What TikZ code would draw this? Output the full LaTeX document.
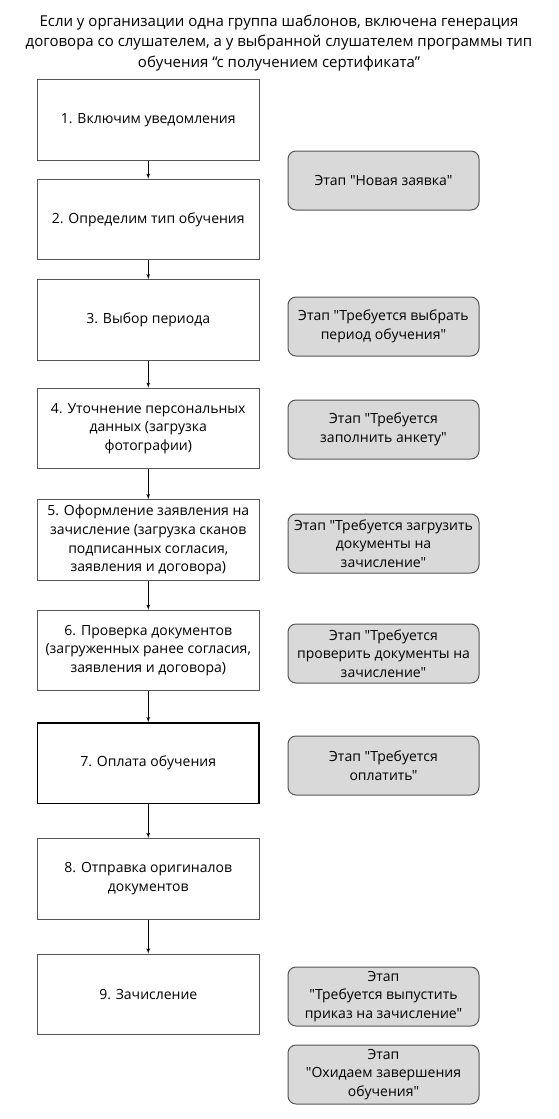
\documentclass[tikz,border=0pt]{standalone}
\usepackage{fontspec}
\setmainfont{Open Sans}[Ligatures=TeXOff]
\usetikzlibrary{arrows, positioning}
\definecolor{boxgray}{HTML}{555555}
\definecolor{stagefill}{HTML}{D9D9D9}
\tikzstyle{process} = [rectangle, draw=boxgray, line width=1pt, fill=white, text centered, align=center, minimum width=221.5pt, minimum height=80.5pt, inner sep=1pt, font=\fontsize{14}{18.75}\selectfont]
\tikzstyle{stage} = [rectangle, draw=boxgray, line width=1pt, rounded corners=8pt, fill=stagefill, text centered, align=center, minimum width=191pt, minimum height=59pt, inner sep=1pt, font=\fontsize{14}{18.75}\selectfont]
\tikzstyle{connector} = [draw, line width=0.8pt, -latex']

\begin{document}
\begin{tikzpicture}[x=1pt, y=1pt, node distance=18pt]
      \useasboundingbox (0,0) rectangle (558,-1119);
      % Title
      \node (title) [align=center, font=\fontsize{15}{20.5}\selectfont] at (279,-43) {Если у организации одна группа шаблонов, включена генерация\\договора со слушателем, а у выбранной слушателем программы тип\\обучения “с получением сертификата”};

      % Steps of the student
      \node (s1) [process] at (148.25,-120) {1. Включим уведомления};
      \node (s2) [process, below=of s1] {2. Определим тип обучения};
      \node (s3) [process, below=19pt of s2] {3. Выбор периода};
      \node (s4) [process, below=27pt of s3] {4. Уточнение персональных\\данных (загрузка\\фотографии)};
      \node (s5) [process, below=30pt of s4] {5. Оформление заявления на\\зачисление (загрузка сканов\\подписанных согласия,\\заявления и договора)};
      \node (s6) [process, below=29pt of s5] {6. Проверка документов\\(загруженных ранее согласия,\\заявления и договора)};
      \node (s7) [process, draw=black, line width=1.3pt, below=31pt of s6] {7. Оплата обучения};
      \node (s8) [process, below=34pt of s7] {8. Отправка оригиналов\\документов};
      \node (s9) [process, below=34pt of s8] {9. Зачисление};

      % Stages of the application
      \node (new) [stage] at (383.5,-180.5) {Этап "Новая заявка"};
      \node (period) [stage] at (383.5,-326.5) {Этап "Требуется выбрать\\период обучения"};
      \node (form) [stage] at (383.5,-429.5) {Этап "Требуется\\заполнить анкету"};
      \node (upload) [stage] at (383.5,-543.5) {Этап "Требуется загрузить\\документы на\\зачисление"};
      \node (check) [stage] at (383.5,-653.5) {Этап "Требуется\\проверить документы на\\зачисление"};
      \node (pay) [stage] at (383.5,-765.5) {Этап "Требуется\\оплатить"};
      \node (order) [stage] at (383.5,-996.5) {Этап\\"Требуется выпустить\\приказ на зачисление"};
      \node (finish) [stage] at (383.5,-1074.5) {Этап\\"Охидаем завершения\\обучения"};

      % Draw connectors
      \draw [connector] (s1) -- (s2);
      \draw [connector] (s2) -- (s3);
      \draw [connector] (s3) -- (s4);
      \draw [connector] (s4) -- (s5);
      \draw [connector] (s5) -- (s6);
      \draw [connector] (s6) -- (s7);
      \draw [connector] (s7) -- (s8);
      \draw [connector] (s8) -- (s9);
\end{tikzpicture}
\end{document}
